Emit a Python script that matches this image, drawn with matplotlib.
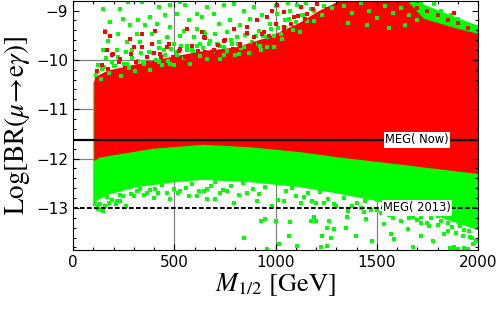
import matplotlib
matplotlib.use("Agg")
import matplotlib.pyplot as plt
import numpy as np
from matplotlib.ticker import MultipleLocator

plt.rcParams['mathtext.fontset'] = 'stix'

# dense envelopes (M_1/2 in GeV, log10 BR)
green_low_x = [100, 118, 183, 315, 480, 643, 876, 1124, 1322, 1486, 1653, 1817, 2000]
green_low_y = [-12.9, -12.85, -12.72, -12.58, -12.49, -12.43, -12.48, -12.58, -12.72, -12.85, -13.02, -13.2, -13.45]
green_top_x = [100, 170, 300, 500, 630, 800, 960, 1120, 1210, 1320, 1650, 1700, 1817, 1900, 1982, 2000]
green_top_y = [-10.45, -10.25, -10.12, -9.95, -9.85, -9.77, -9.57, -9.27, -9.04, -8.8, -8.8, -8.82, -9.02, -9.15, -9.28, -9.3]

red_low_x = [105, 110, 130, 233, 396, 643, 876, 1124, 1322, 1653, 2000]
red_low_y = [-12.05, -12.04, -11.98, -11.91, -11.80, -11.72, -11.77, -11.87, -11.98, -12.14, -12.31]
red_top_x = [105, 110, 170, 300, 500, 630, 800, 960, 1120, 1210, 1320, 1650, 1734, 1817, 1900, 2000]
red_top_y = [-10.45, -10.35, -10.22, -10.1, -9.93, -9.83, -9.75, -9.55, -9.25, -9.02, -8.8, -8.8, -9.17, -9.27, -9.37, -9.47]

# scattered points outside the dense bands
green_upper = [
    (150, -8.97), (233, -8.97), (272, -8.83), (340, -8.83), (423, -8.93), (480, -8.88),
    (530, -8.83), (554, -8.88), (612, -9.07), (249, -9.17), (323, -9.20), (381, -9.14),
    (455, -9.10), (513, -9.07), (571, -9.20), (637, -9.14), (183, -9.24), (282, -9.30),
    (356, -9.30), (414, -9.27), (480, -9.34), (546, -9.41), (612, -9.37), (158, -9.41),
    (224, -9.47), (315, -9.47), (389, -9.47), (464, -9.54), (530, -9.51), (596, -9.54),
    (653, -9.47), (175, -9.61), (266, -9.64), (332, -9.64), (423, -9.64), (497, -9.68),
    (563, -9.71), (629, -9.68), (150, -9.81), (216, -9.81), (290, -9.81), (373, -9.85),
    (447, -9.81), (513, -9.85), (587, -9.81), (142, -10.18), (200, -10.12), (266, -10.08),
    (348, -10.05), (423, -10.05), (480, -10.08),
    (662, -8.93), (695, -9.07), (744, -8.88), (794, -8.86), (843, -9.00), (893, -8.93),
    (719, -9.27), (777, -9.20), (827, -9.30), (876, -9.17), (934, -9.10), (645, -9.44),
    (703, -9.47), (761, -9.44), (810, -9.54), (860, -9.47), (917, -9.41), (975, -9.27),
    (1008, -9.07), (670, -9.68), (728, -9.71), (785, -9.68), (843, -9.74), (901, -9.68),
    (959, -9.54), (1025, -9.47), (1049, -9.20), (1074, -9.00), (1107, -8.88), (744, -9.91),
    (818, -9.88), (926, -9.81), (992, -9.74),
    (1150, -8.85), (1190, -9.0), (1240, -8.9), (1130, -9.1), (1060, -8.85), (1000, -8.9),
    (1230, -9.1), (1280, -8.95), (1340, -8.9), (1380, -9.05), (1420, -8.85), (1460, -9.0),
    (1500, -9.15), (1540, -8.9), (1580, -9.05), (1620, -8.95), (1660, -9.1), (1360, -9.25),
    (1450, -9.3), (1560, -9.35), (1640, -9.3), (1700, -9.2),
    (1701, -8.88), (1734, -8.93), (1767, -9.03), (1817, -9.00), (1833, -9.14), (1866, -9.10),
    (1899, -9.17), (1924, -9.27), (1957, -9.30), (1982, -9.37), (1717, -8.83), (1783, -8.86),
    # mixed fringe around the top of the red band
    (112, -10.30), (125, -10.11), (138, -10.39), (152, -10.14), (165, -9.96), (178, -10.26),
    (192, -10.05), (205, -10.13), (220, -9.95), (236, -10.32), (250, -10.08), (262, -9.85),
    (278, -10.17), (292, -9.96), (306, -10.22), (320, -10.02), (335, -9.86), (350, -10.08),
    (366, -9.95), (380, -10.20), (395, -9.86), (410, -10.01), (426, -9.76), (440, -10.10),
    (455, -9.90), (470, -10.02), (486, -9.78), (500, -10.11), (516, -9.91), (532, -9.72),
    (548, -9.96), (562, -9.79), (578, -10.08), (594, -9.83), (610, -9.71), (626, -9.93),
    (642, -9.76), (660, -9.98), (676, -9.62), (692, -9.82), (710, -9.68), (728, -9.98),
    (745, -9.73), (762, -9.83), (780, -9.60), (798, -9.90), (815, -9.67), (832, -9.76),
    (850, -9.50), (868, -9.86), (886, -9.63), (904, -9.51), (922, -9.71), (940, -9.52),
    (958, -9.74), (976, -9.37), (994, -9.52), (1012, -9.36), (1030, -9.58), (1048, -9.35),
    (1066, -9.17), (1084, -9.40), (1102, -9.23), (1120, -9.43), (1138, -9.10), (1156, -9.21),
    (1174, -8.97), (1192, -9.22),
]
red_upper = [
    (158, -9.44), (183, -9.51), (167, -9.81), (191, -9.91), (282, -9.57), (406, -9.41),
    (340, -9.47), (389, -9.68), (299, -9.74), (472, -9.68), (563, -9.37), (637, -9.44),
    (233, -9.98), (365, -9.95), (431, -9.88), (530, -9.78), (604, -9.91), (653, -9.85),
    (645, -9.54), (695, -9.81), (744, -9.61), (794, -9.37), (860, -9.34), (893, -9.54),
    (942, -9.44), (983, -9.00), (1008, -8.88), (1041, -9.03), (1090, -9.14), (1124, -8.93),
    (1157, -9.07), (1207, -8.86), (1256, -8.97), (959, -9.14), (909, -9.20), (827, -9.71),
    (678, -9.88), (1041, -9.34),
    (1750, -9.0), (1800, -9.1), (1850, -9.2), (1900, -9.25), (1950, -9.35), (1700, -8.95),
    (1880, -9.05),
    # red fringe above the red band
    (118, -10.22), (145, -10.10), (172, -10.19), (198, -9.88), (228, -10.05), (256, -10.16),
    (285, -9.89), (313, -10.04), (342, -9.74), (372, -10.06), (402, -9.87), (433, -9.94),
    (462, -9.73), (493, -9.94), (524, -9.82), (555, -9.94), (586, -9.71), (618, -9.83),
    (650, -9.56), (684, -9.84), (718, -9.70), (752, -9.59), (788, -9.77), (823, -9.67),
    (858, -9.46), (895, -9.67), (932, -9.48), (968, -9.51), (1004, -9.27), (1040, -9.42),
    (1076, -9.27), (1112, -9.11), (1148, -9.18), (1184, -8.97),
]
green_lower = [
    (125, -12.96), (142, -13.04), (216, -12.85), (249, -12.75), (315, -12.65), (365, -12.69),
    (406, -12.62), (464, -12.69), (530, -12.65), (571, -12.75), (621, -12.65), (662, -12.62),
    (480, -12.82), (233, -12.85),
    (645, -12.65), (703, -12.82), (794, -12.89), (843, -13.60), (926, -13.26), (950, -13.23),
    (1000, -13.26), (959, -13.83), (1016, -13.73), (1074, -13.29), (1066, -13.56), (1107, -13.77),
    (1173, -13.26), (1190, -13.19), (1198, -13.26), (1264, -13.26), (1256, -13.40), (1231, -13.56),
    (1272, -13.60), (1256, -13.77), (1223, -13.80), (1289, -13.43), (909, -12.85), (983, -12.96),
    (1041, -12.85), (1124, -12.89), (728, -12.69), (661, -12.82),
    (1347, -13.40), (1396, -13.56), (1446, -13.23), (1478, -13.67), (1536, -13.33), (1569, -13.53),
    (1586, -13.63), (1619, -13.26), (1652, -13.43), (1677, -13.80), (1718, -13.56), (1759, -13.36),
    (1776, -13.67), (1817, -13.26), (1850, -13.46), (1883, -13.80), (1907, -13.29), (1924, -13.56),
    (1957, -13.46), (1973, -13.73), (1982, -13.26), (1940, -13.19), (1800, -13.16), (1718, -13.19),
    (1586, -13.13), (1437, -13.09), (1355, -13.19),
    (1860, -13.82), (1880, -13.84), (1900, -13.83), (1930, -13.82), (1950, -13.84),
    (1380, -12.95), (1420, -13.0), (1470, -13.05), (1520, -13.1), (1560, -13.15), (1610, -13.05),
    (1660, -13.2), (1700, -13.25), (1750, -13.3), (1800, -13.35), (1850, -13.3), (1890, -13.5),
    (1930, -13.45), (1970, -13.6), (1100, -12.75), (1180, -12.85), (1240, -12.9), (1300, -12.95),
    (860, -12.7), (760, -12.65), (560, -12.6), (420, -12.7), (300, -12.75), (180, -12.9),
    (160, -12.95),
    # ragged fringe just below the dense green band
    (110, -12.91), (122, -13.02), (135, -12.91), (150, -13.06), (168, -12.77), (195, -12.84),
    (210, -12.91), (230, -12.73), (260, -12.95), (285, -12.72), (330, -12.61), (350, -12.74),
    (380, -12.63), (400, -12.80), (440, -12.53), (500, -12.61), (520, -12.69), (590, -12.51),
    (610, -12.75), (680, -12.55), (700, -12.48), (740, -12.63), (780, -12.55), (820, -12.74),
    (840, -12.49), (890, -12.62), (920, -12.72), (950, -12.57), (1010, -12.84), (1050, -12.66),
    (1080, -12.60), (1140, -12.77), (1160, -12.70), (1200, -12.90), (1220, -12.67), (1260, -12.81),
    (1290, -12.92), (1340, -12.79), (1360, -13.06), (1400, -12.89), (1440, -12.85), (1500, -13.04),
    (1530, -12.98), (1580, -13.21), (1630, -13.02), (1680, -13.18), (1720, -13.31), (1770, -13.21),
    (1830, -13.53), (1870, -13.38), (1910, -13.37), (1960, -13.58), (1990, -13.66),
]

meg_now = -11.62
meg_2013 = -13.0

GREEN = '#00ff00'
RED = '#ff0000'

fig = plt.figure(figsize=(5.0, 3.14), dpi=100)
ax = fig.add_axes([0.146, 0.204, 0.81, 0.794])

for v in [500, 1000, 1500]:
    ax.axvline(v, color='#808080', lw=0.9, zorder=0)
for v in [-10, -11, -12]:
    ax.axhline(v, color='#808080', lw=0.9, zorder=0)

ax.fill(np.concatenate([green_low_x, green_top_x[::-1]]),
        np.concatenate([green_low_y, green_top_y[::-1]]),
        color=GREEN, lw=0, zorder=1)
ax.fill(np.concatenate([red_low_x, red_top_x[::-1]]),
        np.concatenate([red_low_y, red_top_y[::-1]]),
        color=RED, lw=0, zorder=1.5)

for pts, c in [(green_upper, GREEN), (red_upper, RED), (green_lower, GREEN)]:
    px, py = zip(*pts)
    ax.scatter(px, py, s=5, marker='s', color=c, lw=0, zorder=2)

ax.axhline(meg_now, color='black', lw=1.6, zorder=3)
ax.axhline(meg_2013, color='black', lw=1.4, ls=(0, (2.4, 1.2)), zorder=3)

box = dict(facecolor='white', edgecolor='none', pad=1.0)
ax.text(1698, meg_now, 'MEG( Now)', ha='center', va='center', fontsize=8.3, bbox=box, zorder=4)
ax.text(1698, meg_2013, 'MEG( 2013)', ha='center', va='center', fontsize=8.3, bbox=box, zorder=4)

ax.set_xlim(0, 2000)
ax.set_ylim(-13.85, -8.8)
ax.xaxis.set_major_locator(MultipleLocator(500))
ax.xaxis.set_minor_locator(MultipleLocator(100))
ax.yaxis.set_major_locator(MultipleLocator(1))
ax.yaxis.set_minor_locator(MultipleLocator(0.2))
ax.tick_params(which='both', direction='in', top=True, right=True, labelsize=11, width=0.8)
ax.tick_params(which='major', length=4.5)
ax.tick_params(which='minor', length=2.5)

ax.set_xlabel(r'$M_{1/2}$ [GeV]', fontfamily='STIXGeneral', fontsize=19, labelpad=1)
ax.set_ylabel(r'$\mathrm{Log[BR(}\mu\!\rightarrow\!\mathrm{e}\gamma\mathrm{)]}$', fontsize=19.5, labelpad=3)

fig.savefig('out.png', dpi=100)
